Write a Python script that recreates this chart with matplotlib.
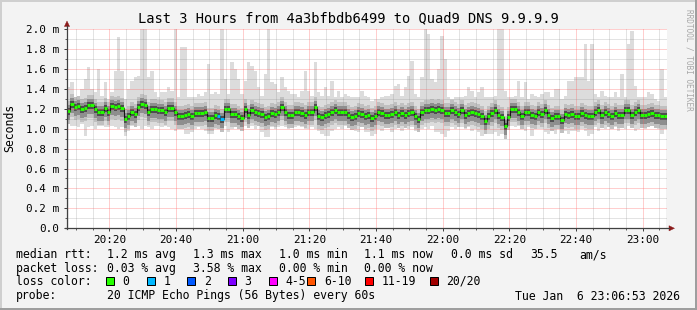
import numpy as np
import matplotlib
matplotlib.use("Agg")
import matplotlib.pyplot as plt
from matplotlib.patches import Rectangle, Polygon
from matplotlib.lines import Line2D
from matplotlib.ticker import MultipleLocator, FixedLocator

# ---------------- data (one value per minute) ----------------
start_minute = 7.3          # minutes after 20:00 where the graph starts

median_ms = [
    1.18,1.25,1.22,1.23,1.20,1.21,1.24,1.24,1.20,1.17, 1.17,1.21,1.17,1.23,1.22,1.23,1.21,1.10,1.13,1.17,
    1.15,1.22,1.25,1.24,1.17,1.20,1.20,1.19,1.19,1.17, 1.21,1.21,1.17,1.13,1.13,1.14,1.15,1.13,1.16,1.16,
    1.16,1.17,1.11,1.11,1.14,
    1.13,1.10,1.20,1.20,1.15,1.15,1.13,1.11,1.20,1.14, 1.19,1.17,1.16,1.15,1.12,1.13,1.16,1.15,1.17,1.22,
    1.17,1.14,1.14,1.17,1.17,1.16,1.14,1.17,1.17,1.22, 1.13,1.12,1.14,1.15,1.17,1.19,1.17,1.17,1.17,1.14,
    1.12,1.13,1.16,1.15,1.13,
    1.14,1.11,1.13,1.17,1.16,1.14,1.14,1.15,1.17,1.14, 1.16,1.14,1.16,1.17,1.13,1.10,1.17,1.19,1.19,1.20,
    1.19,1.20,1.19,1.16,1.16,1.19,1.17,1.15,1.19,1.14, 1.16,1.17,1.16,1.15,1.13,1.08,1.13,1.16,1.19,1.14,
    1.12,1.03,1.12,1.20,1.20,
    1.17,1.13,1.17,1.17,1.14,1.13,1.17,1.15,1.19,1.14, 1.11,1.13,1.13,1.09,1.15,1.14,1.15,1.13,1.13,1.16,
    1.14,1.13,1.13,1.17,1.19,1.14,1.17,1.15,1.13,1.16, 1.14,1.14,1.19,1.19,1.14,1.17,1.19,1.14,1.14,1.15,
    1.16,1.14,1.14,1.13,1.13,
]

max_ms = [
    1.42,1.47,1.32,1.33,1.40,1.50,1.62,1.40,1.37,1.60, 1.33,1.47,1.30,1.37,1.58,1.92,1.58,1.30,1.40,1.48,
    1.52,1.53,2.00,2.00,1.52,1.58,1.37,1.32,1.37,1.37, 1.42,1.38,2.00,1.32,1.82,1.82,1.32,1.32,1.32,1.35,
    1.33,1.37,1.65,1.35,1.37,
    1.35,2.00,1.50,1.35,1.67,1.60,1.50,1.35,1.48,1.67, 1.63,1.58,1.42,1.33,1.55,2.00,1.47,1.45,1.37,1.52,
    1.42,1.38,1.35,1.35,1.32,1.38,1.58,1.38,1.33,1.67, 1.37,1.33,1.42,1.33,1.48,1.32,1.38,1.32,1.35,1.33,
    1.32,1.32,1.32,1.38,1.33,
    1.32,1.28,1.30,1.30,1.32,1.33,1.33,1.35,1.43,1.45, 1.33,1.42,1.53,1.68,1.35,1.32,1.52,2.00,1.95,1.50,
    1.47,1.60,1.93,1.70,1.32,1.30,1.32,1.32,1.32,1.33, 1.42,1.38,1.32,1.37,1.42,1.32,1.32,1.32,1.33,2.00,
    2.00,1.38,1.32,1.32,1.33,
    1.48,1.32,1.47,1.30,1.35,1.33,1.32,1.35,1.37,1.37, 1.32,1.40,1.40,1.30,1.33,1.48,1.48,1.52,1.52,1.52,
    1.85,1.48,1.85,1.35,1.32,1.38,1.33,1.32,1.32,1.37, 1.32,1.55,1.32,1.85,1.98,1.43,1.32,1.32,1.32,1.37,
    1.35,1.30,1.28,1.60,1.32,
]

min_ms = [
    1.07,1.03,1.03,1.02,1.05,0.93,1.02,1.03,1.00,1.03, 1.03,1.02,1.02,1.03,1.02,1.00,1.02,0.93,0.98,1.03,
    1.02,1.03,1.00,1.03,1.02,1.00,1.03,1.03,1.02,1.03, 1.02,1.00,0.98,1.00,1.00,0.95,0.95,0.97,1.00,1.02,
    1.00,0.98,0.95,0.95,1.00,
    1.03,1.00,1.03,0.97,1.00,1.02,1.02,1.00,1.03,1.02, 1.03,1.00,1.03,0.97,0.92,0.92,1.02,1.00,1.02,1.03,
    1.02,1.00,1.02,1.02,1.03,1.02,1.00,1.00,1.02,1.00, 0.98,0.95,0.93,0.93,0.98,1.00,1.02,1.00,1.03,1.02,
    1.00,0.98,0.97,1.02,0.97,
    0.97,0.93,0.95,1.00,0.98,1.02,1.02,0.97,1.00,1.02, 0.98,1.02,1.00,1.02,0.98,0.97,1.00,1.02,1.00,1.03,
    0.97,0.97,0.95,0.92,0.98,1.02,1.00,1.03,1.02,1.00, 1.02,0.98,1.00,0.97,0.93,1.00,0.95,0.95,0.97,0.93,
    0.95,0.97,1.02,1.03,1.02,
    1.03,1.00,0.98,1.02,0.93,1.02,1.00,1.00,0.97,0.95, 0.98,0.95,1.00,1.00,0.98,0.95,0.98,0.98,0.97,1.00,
    0.98,0.93,0.95,1.02,0.98,1.02,1.00,1.02,1.00,1.02, 0.98,1.02,1.00,1.03,1.02,0.98,1.00,1.02,1.00,1.02,
    1.03,1.02,1.00,0.95,1.02,
]

lost_pings = [0] * 180
lost_pings[45] = 1
lost_pings[46] = 1

x_tick_minutes = [20, 40, 60, 80, 100, 120, 140, 160, 180]
x_tick_labels = ["20:20", "20:40", "21:00", "21:20", "21:40", "22:00", "22:20", "22:40", "23:00"]
y_tick_values = [0.0, 0.2, 0.4, 0.6, 0.8, 1.0, 1.2, 1.4, 1.6, 1.8, 2.0]
y_tick_labels = ["0.0", "0.2 m", "0.4 m", "0.6 m", "0.8 m", "1.0 m", "1.2 m",
                 "1.4 m", "1.6 m", "1.8 m", "2.0 m"]

loss_labels = ["0", "1", "2", "3", "4-5", "6-10", "11-19", "20/20"]
loss_colors = ["#26ff00", "#00b8ff", "#0059ff", "#7e00ff", "#ff00ff", "#ff5500", "#ff0000", "#a10000"]

title = "Last 3 Hours from 4a3bfbdb6499 to Quad9 DNS 9.9.9.9"
rtt_row = ["median rtt:", "1.2 ms avg", "1.3 ms max", "1.0 ms min", "1.1 ms now", "0.0 ms sd", "35.5", "am/s"]
loss_row = ["packet loss:", "0.03 % avg", "3.58 % max", "0.00 % min", "0.00 % now"]
probe_text = "20 ICMP Echo Pings (56 Bytes) every 60s"
stamp_text = "Tue Jan  6 23:06:53 2026"

# ---------------- figure ----------------
W, H = 697, 310
MONO = "DejaVu Sans Mono"
fig = plt.figure(figsize=(W / 100, H / 100), dpi=100, facecolor="#f3f3f3")

def fx(x):
    return x / W

def fy(y):
    return 1 - y / H

X0, X1, YTOP, YBOT = 67, 667, 29, 228.3
ax = fig.add_axes([fx(X0), fy(YBOT), (X1 - X0) / W, (YBOT - YTOP) / H])
ax.set_facecolor("white")
ax.set_xlim(start_minute, start_minute + 180)
ax.set_ylim(0, 2.0)
for s in ax.spines.values():
    s.set_visible(False)

med = np.array(median_ms)
mx = np.array(max_ms)
mn = np.array(min_ms)
edges = start_minute + np.arange(len(med) + 1)

# smoke
ax.stairs(mx, edges, baseline=mn, fill=True, color="#dcdcdc", lw=0, zorder=1)
ax.stairs(med + 0.10, edges, baseline=med - 0.13, fill=True, color="#c0c0c0", lw=0, zorder=1.1)
ax.stairs(med + 0.06, edges, baseline=med - 0.09, fill=True, color="#8e8e8e", lw=0, zorder=1.2)
ax.stairs(med + 0.03, edges, baseline=med - 0.045, fill=True, color="#4e4e4e", lw=0, zorder=1.3)

# median
ax.stairs(med, edges, color="#151515", lw=0.8, zorder=3)
seg_colors = [loss_colors[min(n, 4)] if n < 4 else loss_colors[4] for n in lost_pings]
ax.hlines(med, edges[:-1], edges[1:], colors=seg_colors, lw=2.1, zorder=4)

# grid & ticks
ax.xaxis.set_major_locator(FixedLocator(x_tick_minutes))
ax.xaxis.set_minor_locator(MultipleLocator(5))
ax.yaxis.set_major_locator(FixedLocator(y_tick_values))
ax.yaxis.set_minor_locator(MultipleLocator(0.1))
ax.set_xticklabels(x_tick_labels, fontfamily=MONO, fontsize=7.9)
ax.set_yticklabels(y_tick_labels, fontfamily=MONO, fontsize=7.9)
ax.set_axisbelow(False)
ax.grid(which="minor", color="#909090", alpha=0.5, lw=0.72, ls=(0, (1, 1)))
ax.grid(which="major", color="#ff5f5f", alpha=0.6, lw=0.72, ls=(0, (1, 1)))
ax.tick_params(axis="both", which="major", length=2.5, width=0.72, color="#404040", direction="out")
ax.tick_params(axis="both", which="minor", length=1.5, width=0.72, color="#606060", direction="out")
ax.tick_params(axis="x", which="major", pad=2.0)
ax.tick_params(axis="y", which="major", pad=3.0)

# axes lines & arrows
ax_col = "#404040"
arrow_col = "#8b1a1a"
fig.add_artist(Line2D([fx(X0), fx(X0)], [fy(YBOT + 1), fy(26)], color=ax_col, lw=0.9))
fig.add_artist(Line2D([fx(X0 - 2), fx(669)], [fy(YBOT), fy(YBOT)], color=ax_col, lw=0.9))
fig.add_artist(Polygon([[fx(X0 - 2.6), fy(26.5)], [fx(X0 + 2.6), fy(26.5)], [fx(X0), fy(21)]],
                       closed=True, facecolor=arrow_col, edgecolor=arrow_col, lw=0.3))
fig.add_artist(Polygon([[fx(669), fy(YBOT - 2.6)], [fx(669), fy(YBOT + 2.6)], [fx(674.5), fy(YBOT)]],
                       closed=True, facecolor=arrow_col, edgecolor=arrow_col, lw=0.3))

# titles
fig.text(fx(348.5), fy(18.5), title, fontfamily=MONO, fontsize=9.9, ha="center", va="center")
fig.text(fx(10), fy(127.5), "Seconds", fontfamily=MONO, fontsize=8.3, rotation=90, ha="center", va="center")
fig.text(fx(689), fy(60), "RRDTOOL / TOBI OETIKER", fontfamily=MONO, fontsize=5.6, rotation=270,
         ha="center", va="center", color="#a8a8a8")

# legend rows
LF = 8.3
rtt_x = [16, 107, 193, 279, 364, 451, 530, 579]
for t, xx in zip(rtt_row, rtt_x):
    fig.text(fx(xx), fy(254.5), t, fontfamily=MONO, fontsize=LF, ha="left", va="center")
loss_x = [16, 107, 193, 279, 364]
for t, xx in zip(loss_row, loss_x):
    fig.text(fx(xx), fy(268.5), t, fontfamily=MONO, fontsize=LF, ha="left", va="center")
fig.text(fx(16), fy(281.5), "loss color:", fontfamily=MONO, fontsize=LF, ha="left", va="center")
box_x = [106, 146.7, 187.3, 228, 268.7, 307.3, 365.3, 430]
for lab, col, bx in zip(loss_labels, loss_colors, box_x):
    fig.add_artist(Rectangle((fx(bx), fy(285.3)), 8 / W, 8 / H, facecolor=col, edgecolor="black", lw=0.72))
    fig.text(fx(bx + 16.5), fy(281.5), lab, fontfamily=MONO, fontsize=LF, ha="left", va="center")
fig.text(fx(16), fy(296), "probe:", fontfamily=MONO, fontsize=LF, ha="left", va="center")
fig.text(fx(107), fy(296), probe_text, fontfamily=MONO, fontsize=LF, ha="left", va="center")
fig.text(fx(680), fy(296), stamp_text, fontfamily=MONO, fontsize=LF, ha="right", va="center")

# frame shading
fig.add_artist(Rectangle((0, fy(2)), 1, 2 / H, facecolor="#cfcfcf", lw=0))
fig.add_artist(Rectangle((0, 0), 2 / W, 1, facecolor="#cfcfcf", lw=0))
fig.add_artist(Rectangle((0, 0), 1, 2 / H, facecolor="#9e9e9e", lw=0))
fig.add_artist(Rectangle((fx(W - 2), 0), 2 / W, 1, facecolor="#9e9e9e", lw=0))

fig.savefig("out.png", dpi=100, facecolor=fig.get_facecolor())
